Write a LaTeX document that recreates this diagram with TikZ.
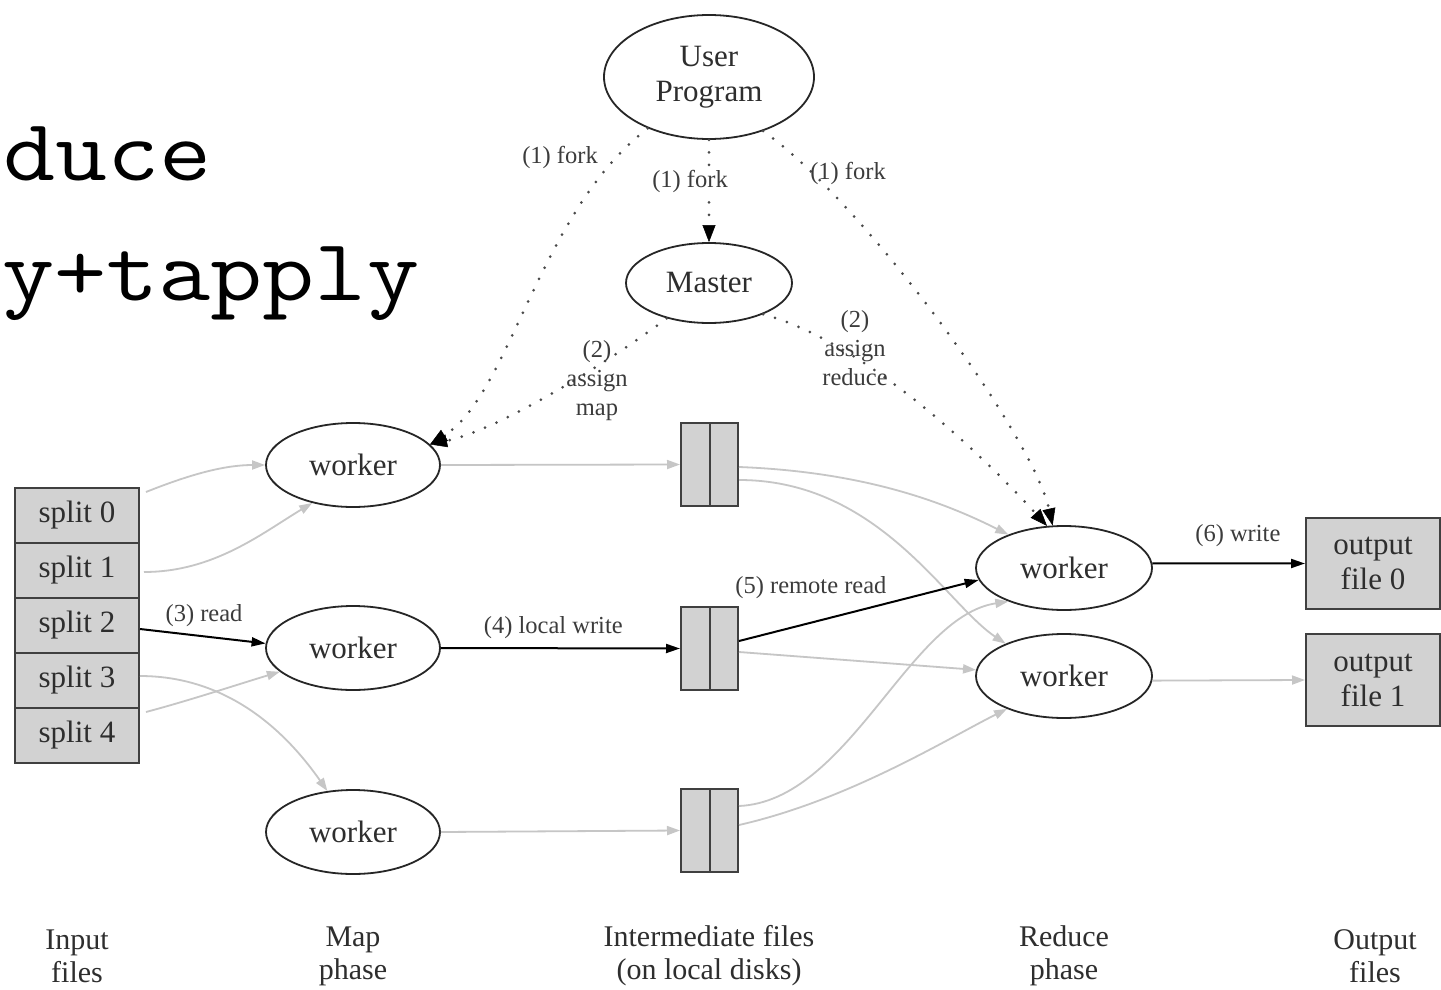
\documentclass[tikz,border=0pt]{standalone}
\usepackage{graphicx}
\usepackage{fontspec}
\setmainfont{Liberation Serif}
\usetikzlibrary{arrows.meta,shapes.geometric,calc}
\definecolor{txt}{HTML}{2E2E2E}
\definecolor{lbltxt}{HTML}{3C3C3C}
\definecolor{edgegray}{HTML}{C6C6C6}
\definecolor{boxfill}{HTML}{D2D2D2}
\definecolor{dotc}{HTML}{4A4A4A}
\begin{document}
\begin{tikzpicture}[x=1pt,y=-1pt,
  ell/.style={ellipse, draw=black!85, line width=1.8pt, inner sep=0pt, text=txt,
    font=\fontsize{31}{35}\selectfont, align=center},
  filebox/.style={rectangle, draw=black!75, line width=2pt, fill=boxfill, inner sep=0pt,
    text=txt, font=\fontsize{31}{35}\selectfont, align=center},
  diskbox/.style={rectangle, draw=black!75, line width=2pt, fill=boxfill, inner sep=0pt,
    minimum width=57pt, minimum height=83pt},
  lbl/.style={text=lbltxt, font=\fontsize{24.5}{29}\selectfont, align=center, inner sep=2pt},
  phase/.style={text=txt, font=\fontsize{30}{33}\selectfont, align=center, inner sep=0pt},
  bigtext/.style={anchor=base west, inner sep=0pt, font=\ttfamily\fontsize{88}{88}\selectfont},
  grayedge/.style={draw=edgegray, line width=1.8pt, -{Triangle[length=13pt,width=9pt]}},
  blackedge/.style={draw=black, line width=2pt, -{Triangle[length=14pt,width=9pt]}},
  dotedge/.style={draw=dotc, line width=3pt, line cap=round, dash pattern=on 0pt off 12.5pt,
    -{Triangle[length=17pt,width=13pt,color=black,line width=0.5pt]}},
]
\fill[white] (0,0) rectangle (1441,990);
\useasboundingbox (0,0) rectangle (1441,990);

% cropped slide text
\node[bigtext] (t1) at (3,180) {\scalebox{1.15}[1]{duce}};
\node[bigtext] (t2) at (2,300) {\scalebox{1.15}[1]{y+tapply}};

% nodes
\node[ell, minimum width=210pt, minimum height=124pt] (up) at (709,77) {User\\Program};
\node[ell, minimum width=166pt, minimum height=80pt] (master) at (709,283) {Master};

\node[ell, minimum width=174pt, minimum height=84pt] (w1) at (353,465) {worker};
\node[ell, minimum width=174pt, minimum height=84pt] (w2) at (353,648) {worker};
\node[ell, minimum width=174pt, minimum height=84pt] (w3) at (353,832) {worker};

\node[ell, minimum width=176pt, minimum height=84pt] (r1) at (1064,568) {worker};
\node[ell, minimum width=176pt, minimum height=84pt] (r2) at (1064,676) {worker};

\node[filebox, minimum width=124pt, minimum height=55pt] (s0) at (77,515.5) {split 0};
\node[filebox, minimum width=124pt, minimum height=55pt] (s1) at (77,570.5) {split 1};
\node[filebox, minimum width=124pt, minimum height=55pt] (s2) at (77,625.5) {split 2};
\node[filebox, minimum width=124pt, minimum height=55pt] (s3) at (77,680.5) {split 3};
\node[filebox, minimum width=124pt, minimum height=55pt] (s4) at (77,735.5) {split 4};

\node[diskbox] (b1) at (709.5,464.5) {};
\node[diskbox] (b2) at (709.5,648.5) {};
\node[diskbox] (b3) at (709.5,830.5) {};
\draw[black!75, line width=2pt] (b1.north) -- (b1.south);
\draw[black!75, line width=2pt] (b2.north) -- (b2.south);
\draw[black!75, line width=2pt] (b3.north) -- (b3.south);

\node[filebox, minimum width=134pt, minimum height=91pt] (o0) at (1373,563.5) {output\\file 0};
\node[filebox, minimum width=134pt, minimum height=92pt] (o1) at (1373,680) {output\\file 1};

% phase captions
\node[phase] (c1) at (77,956) {Input\\files};
\node[phase] (c2) at (353,956) {Map\\phase};
\node[phase] (c3) at (709,956) {Intermediate files\\(on local disks)};
\node[phase] (c4) at (1064,956) {Reduce\\phase};
\node[phase] (c5) at (1375,956) {Output\\files};

% input -> map
\draw[grayedge] ($(s0.east)+(6,-23.5)$) .. controls +(45,-18) and +(-40,0) .. (w1.west);
\draw[grayedge] ($(s1.east)+(4,1.5)$) .. controls +(70,0) and +(-50,30) .. (w1.-137);
\draw[blackedge] ($(s2.east)+(0,3.5)$) -- node[lbl, pos=0.51, above=6.5pt] {(3) read} (w2.177);
\draw[grayedge] ($(s3.east)+(0,-4.5)$) .. controls +(95,0) and +(-35,-50) .. (w3.122);
\draw[grayedge] ($(s4.east)+(6,-23.5)$) .. controls +(45,-12) and +(-40,12) .. (w2.-162);

% map -> intermediate
\draw[grayedge] (w1.east) -- (b1.west);
\draw[blackedge] (w2.east) -- node[lbl, pos=0.47, above=7pt] {(4) local write} (b2.west);
\draw[grayedge] (w3.east) -- (b3.west);

% intermediate -> reduce
\draw[grayedge] ($(b1.east)+(0,2.5)$) .. controls +(130,5) and +(-60,-30) .. (r1.149);
\draw[grayedge] ($(b1.east)+(0,15.5)$) .. controls +(140,0) and +(-60,-40) .. (r2.151);
\draw[blackedge] ($(b2.east)+(0,-7.5)$) -- node[lbl, pos=0.30, above=20.5pt] {(5) remote read} (r1.-172);
\draw[grayedge] ($(b2.east)+(0,3.5)$) -- (r2.176);
\draw[grayedge] ($(b3.east)+(0,-24.5)$) .. controls +(110,-5) and +(-100,15) .. (r1.-149);
\draw[grayedge] ($(b3.east)+(0,-5.5)$) .. controls +(110,-25) and +(-60,30) .. (r2.-150);

% reduce -> output
\draw[blackedge] (r1.3) -- node[lbl, pos=0.56, above=14pt] {(6) write} (o0.west);
\draw[grayedge] (r2.-3) -- (o1.west);

% control (dotted)
\draw[dotedge] (up.south) -- node[lbl, fill=white, pos=0.41, xshift=-19pt] {(1) fork} (master.north);
\draw[dotedge] (up.-140) .. controls +(-108,82) and +(80,-50) .. (w1.15);
\draw[dotedge] (master.-140) .. controls +(-60,45) and +(70,-15) .. (w1.15);
\draw[dotedge] (up.-45) .. controls +(100,70) and +(-20,-90) .. (r1.105);
\draw[dotedge] (master.-30) .. controls +(110,30) and +(-50,-55) .. (r1.112);

\node[lbl] (f1) at (560,157) {(1) fork};
\node[lbl] (f3) at (848,173) {(1) fork};
\node[lbl] (am) at (597,381) {(2)\\assign\\map};
\node[lbl] (ar) at (855,348) {(2)\\assign\\reduce};
\end{tikzpicture}
\end{document}
